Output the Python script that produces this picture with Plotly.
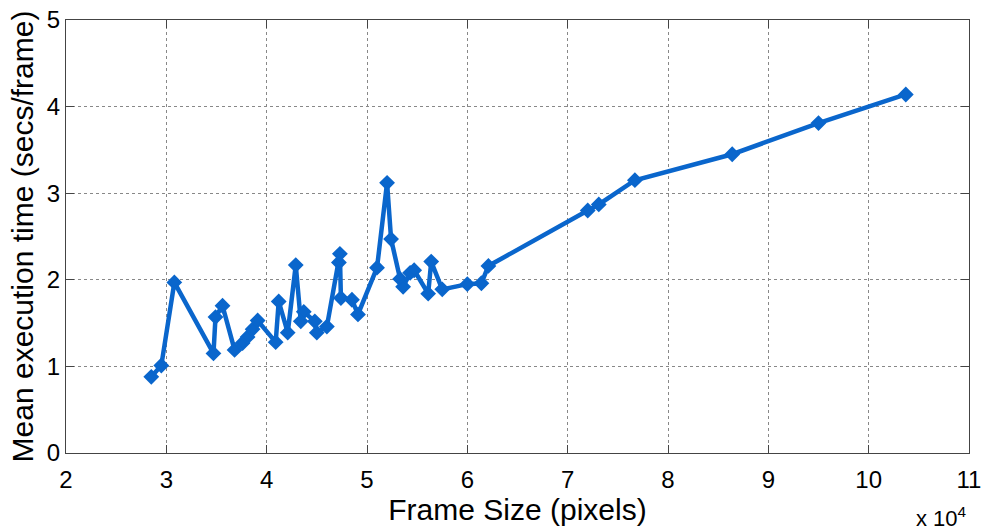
import plotly.graph_objects as go

# Frame size in units of 10^4 pixels
frame_size = [2.85, 2.95, 3.08, 3.47, 3.49, 3.56, 3.68, 3.76, 3.81, 3.86, 3.91,
              4.09, 4.12, 4.21, 4.29, 4.34, 4.37, 4.48, 4.50, 4.60, 4.72, 4.73,
              4.74, 4.85, 4.91, 5.10, 5.20, 5.24, 5.33, 5.36, 5.43, 5.47, 5.61,
              5.64, 5.75, 6.00, 6.14, 6.21, 7.20, 7.31, 7.67, 8.64, 9.50, 10.37]
mean_time = [0.88, 1.01, 1.97, 1.15, 1.57, 1.70, 1.19, 1.27, 1.34, 1.43, 1.53,
             1.28, 1.75, 1.39, 2.17, 1.52, 1.63, 1.52, 1.39, 1.46, 2.20, 2.30,
             1.79, 1.77, 1.60, 2.14, 3.12, 2.47, 2.01, 1.92, 2.08, 2.11, 1.84,
             2.21, 1.89, 1.95, 1.96, 2.16, 2.80, 2.87, 3.15, 3.45, 3.81, 4.14]

x_ticks = [2, 3, 4, 5, 6, 7, 8, 9, 10, 11]
y_ticks = [0, 1, 2, 3, 4, 5]

color = "#0a66cc"
font = "Liberation Sans, Arial, Helvetica, sans-serif"

fig = go.Figure()
fig.add_trace(go.Scatter(
    x=frame_size, y=mean_time, mode="lines+markers",
    line=dict(color=color, width=4.5),
    marker=dict(symbol="diamond", size=10, color=color,
                line=dict(color=color, width=2)),
    showlegend=False,
))

axis_common = dict(
    showline=True, linecolor="#444", linewidth=1, mirror="ticks",
    ticks="inside", ticklen=8, tickcolor="#444",
    showgrid=True, gridcolor="#888", griddash="dot", gridwidth=1,
    zeroline=False, tickfont=dict(family=font, size=24, color="black"),
    automargin=False,
)

fig.update_layout(
    width=986, height=531,
    margin=dict(l=66, r=17, t=20, b=78),
    paper_bgcolor="white", plot_bgcolor="white",
    font=dict(family=font, color="black"),
    xaxis=dict(range=[2, 11], tickvals=x_ticks,
               ticktext=[str(v) for v in x_ticks],
               title=dict(text="Frame Size (pixels)", font=dict(size=30), standoff=4),
               ticklabelstandoff=5,
               **axis_common),
    yaxis=dict(range=[0, 5], tickvals=y_ticks,
               ticktext=[str(v) for v in y_ticks],
               title=dict(text="Mean execution time (secs/frame)", font=dict(size=30), standoff=4),
               **axis_common),
    annotations=[dict(
        text="x 10<sup>4</sup>", xref="paper", yref="paper",
        x=1.0, y=0, xanchor="right", yanchor="top", yshift=-48,
        showarrow=False, font=dict(family=font, size=22, color="black"),
    )],
)

fig.write_html("out.html")
